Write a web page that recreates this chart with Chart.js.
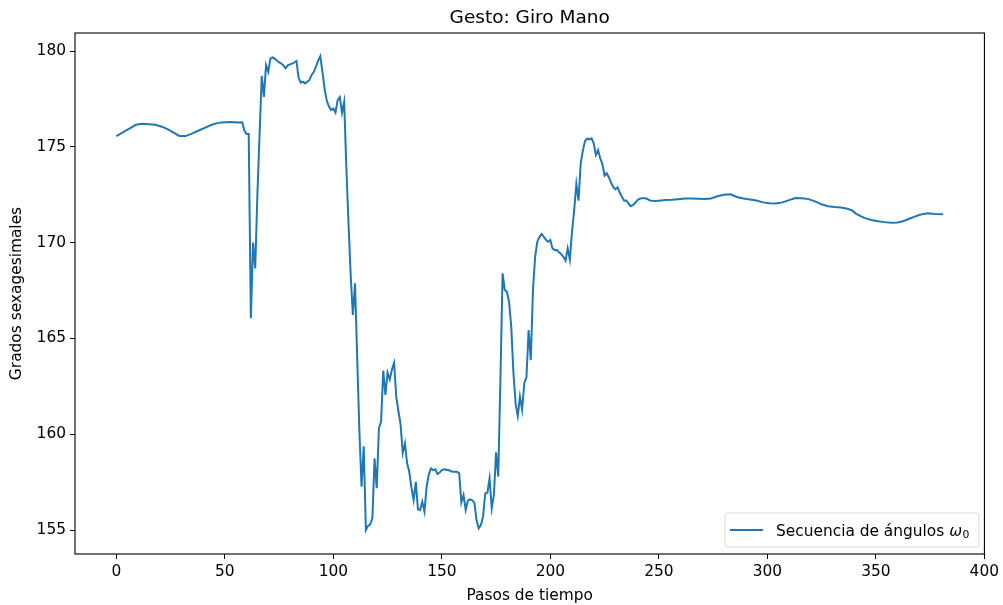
<!DOCTYPE html>
<html>
<head>
<meta charset="utf-8">
<script src="https://cdn.jsdelivr.net/npm/chart.js@4/dist/chart.umd.min.js"></script>
<style>
  html, body { margin: 0; padding: 0; background: #fff; }
  #wrap { width: 1003px; height: 605px; }
</style>
</head>
<body>
<div id="wrap"><canvas id="c" width="1003" height="605"></canvas></div>
<script>
const steps = [0,3,6,9,12,15,18,21,24,27,29,32,35,38,41,44,47,50,53,56,58,59,60,61,
  62,63,64,65,66,67,68,69,70,71,72,73,74,75,76,77,78,79,80,81,82,83,84,85,86,87,88,89,
  90,91,92,93,94,95,96,97,98,99,100,101,102,103,104,105,106,107,108,109,110,111,112,
  113,114,115,116,117,118,119,120,121,122,123,124,125,126,127,128,129,130,131,132,133,
  134,135,136,137,138,139,140,141,142,143,144,145,146,147,148,149,150,151,152,153,154,
  155,156,157,158,159,160,161,162,163,164,165,166,167,168,169,170,171,172,173,174,175,
  176,177,178,179,180,181,182,183,184,185,186,187,188,189,190,191,192,193,194,195,196,
  197,198,199,200,201,202,203,204,205,206,207,208,209,210,211,212,213,214,215,216,217,
  218,219,220,221,222,223,224,225,226,227,228,229,230,231,232,233,234,235,236,237,238,
  239,240,241,242,244,246,248,250,253,256,259,262,265,268,271,274,277,280,283,286,289,
  292,295,298,301,304,307,310,313,316,319,322,325,328,331,334,337,339,341,343,345,348,
  351,354,357,360,362,364,366,368,370,372,374,377,381];
const angles = [175.56,175.75,175.95,176.15,176.2,176.18,176.15,176.05,175.9,175.7,175.57,175.56,175.7,175.85,176.0,176.15,176.25,176.28,176.3,176.27,176.28,175.85,175.67,175.67,
  166.05,170.0,168.66,172.5,175.6,178.7,177.6,179.27,178.92,179.6,179.67,179.6,179.5,179.41,179.35,179.25,179.1,179.25,179.3,179.34,179.4,179.48,178.6,178.35,178.4,178.31,178.4,178.49,
  178.75,178.9,179.18,179.5,179.73,178.9,178.0,177.4,177.1,176.92,177.0,176.78,177.45,177.6,176.78,177.35,173.9,171.0,168.3,166.22,167.88,164.0,160.2,
  157.26,159.37,155.0,155.22,155.3,155.61,158.74,157.18,160.31,160.66,163.32,162.05,163.21,162.86,163.38,163.73,161.96,161.2,160.5,159.03,159.52,
  158.48,158.04,157.2,156.57,157.52,156.08,156.05,156.48,155.96,157.26,157.9,158.22,158.13,158.17,157.92,158.0,158.13,158.17,158.15,158.13,158.08,
  158.04,158.04,158.04,157.96,156.43,156.83,156.05,156.53,156.6,156.55,156.43,155.52,155.09,155.26,155.7,156.91,156.95,157.7,156.13,156.83,159.06,
  157.79,162.83,168.4,167.53,167.44,166.9,165.6,163.2,161.6,160.95,161.96,161.27,162.66,162.97,165.44,163.87,167.53,169.26,170.05,170.3,170.45,
  170.3,170.15,170.05,170.14,169.7,169.61,169.61,169.5,169.4,169.26,169.06,169.7,169.12,170.57,171.7,173.06,172.19,174.14,174.8,175.3,175.44,
  175.39,175.44,175.18,174.57,174.83,174.4,174.1,173.5,173.62,173.4,173.13,172.9,172.78,172.89,172.6,172.4,172.19,172.2,172.05,171.9,171.95,
  172.05,172.2,172.28,172.31,172.31,172.2,172.17,172.19,172.22,172.24,172.27,172.3,172.3,172.29,172.28,172.3,172.42,172.5,172.52,172.38,172.3,
  172.25,172.2,172.1,172.05,172.04,172.1,172.22,172.33,172.32,172.27,172.15,172.0,171.9,171.86,171.83,171.77,171.68,171.5,171.38,171.28,171.18,
  171.12,171.07,171.04,171.05,171.1,171.18,171.27,171.36,171.44,171.5,171.53,171.5,171.48];
const xTicks = [0,50,100,150,200,250,300,350,400];
const yTicks = [155,160,165,170,175,180];
const titleText = 'Gesto: Giro Mano';
const xLabel = 'Pasos de tiempo';
const yLabel = 'Grados sexagesimales';
const seriesLabel = 'Secuencia de ángulos ω₀';
const legendParts = ['Secuencia de ángulos ', 'ω', '0'];

const points = steps.map((s, i) => ({ x: s, y: angles[i] }));
const FONT = 'DejaVu Sans';
const FS = 15.4;
const BLUE = '#1f77b4';

const decor = {
  id: 'decor',
  afterDraw(chart) {
    const ctx = chart.ctx, a = chart.chartArea;
    ctx.save();
    // frame
    ctx.strokeStyle = '#000';
    ctx.lineWidth = 1.1;
    ctx.strokeRect(a.left, a.top, a.right - a.left, a.bottom - a.top);
    // title
    ctx.fillStyle = '#000';
    ctx.font = '18.5px "' + FONT + '"';
    ctx.textAlign = 'center';
    ctx.textBaseline = 'alphabetic';
    ctx.fillText(titleText, (a.left + a.right) / 2, 23);
    // legend
    const bx = 725, by = 513, bw = 254, bh = 34, r = 3;
    ctx.beginPath();
    ctx.moveTo(bx + r, by);
    ctx.lineTo(bx + bw - r, by); ctx.quadraticCurveTo(bx + bw, by, bx + bw, by + r);
    ctx.lineTo(bx + bw, by + bh - r); ctx.quadraticCurveTo(bx + bw, by + bh, bx + bw - r, by + bh);
    ctx.lineTo(bx + r, by + bh); ctx.quadraticCurveTo(bx, by + bh, bx, by + bh - r);
    ctx.lineTo(bx, by + r); ctx.quadraticCurveTo(bx, by, bx + r, by);
    ctx.closePath();
    ctx.fillStyle = 'rgba(255,255,255,0.8)';
    ctx.fill();
    ctx.strokeStyle = '#d9d9d9';
    ctx.lineWidth = 1;
    ctx.stroke();
    ctx.strokeStyle = BLUE;
    ctx.lineWidth = 2;
    ctx.beginPath();
    ctx.moveTo(730, 530); ctx.lineTo(763, 530);
    ctx.stroke();
    ctx.fillStyle = '#000';
    ctx.textAlign = 'left';
    ctx.textBaseline = 'alphabetic';
    const base = 535.5;
    let x = 776;
    ctx.font = FS + 'px "' + FONT + '"';
    ctx.fillText(legendParts[0], x, base);
    x += ctx.measureText(legendParts[0]).width;
    ctx.font = 'italic ' + FS + 'px "' + FONT + '"';
    ctx.fillText(legendParts[1], x, base);
    x += ctx.measureText(legendParts[1]).width + 0.5;
    ctx.font = (FS * 0.7).toFixed(1) + 'px "' + FONT + '"';
    ctx.fillText(legendParts[2], x, base + 2.5);
    ctx.restore();
  }
};

new Chart(document.getElementById('c'), {
  type: 'line',
  data: {
    datasets: [{
      label: seriesLabel,
      data: points,
      borderColor: BLUE,
      borderWidth: 2,
      pointRadius: 0,
      tension: 0,
      fill: false
    }]
  },
  options: {
    responsive: false,
    animation: false,
    layout: { padding: { top: 33, right: 16, left: 0, bottom: 0 } },
    plugins: { legend: { display: false }, title: { display: false }, tooltip: { enabled: false } },
    scales: {
      x: {
        type: 'linear',
        min: -19.05, max: 400.05,
        afterFit(s) { s.height = 51; },
        afterBuildTicks(s) { s.ticks = xTicks.map(v => ({ value: v })); },
        grid: { drawOnChartArea: false, drawTicks: true, tickLength: 5, tickColor: '#000', lineWidth: 1 },
        border: { display: false },
        ticks: { color: '#000', font: { family: FONT, size: FS }, padding: 4, maxRotation: 0, autoSkip: false },
        title: { display: true, text: xLabel, color: '#000', font: { family: FONT, size: FS }, padding: { top: 0, bottom: 0 } }
      },
      y: {
        type: 'linear',
        min: 153.75, max: 180.94,
        afterFit(s) { s.width = 75; },
        afterBuildTicks(s) { s.ticks = yTicks.map(v => ({ value: v })); },
        grid: { drawOnChartArea: false, drawTicks: true, tickLength: 5, tickColor: '#000', lineWidth: 1 },
        border: { display: false },
        ticks: { color: '#000', font: { family: FONT, size: FS }, padding: 4, autoSkip: false },
        title: { display: true, text: yLabel, color: '#000', font: { family: FONT, size: FS }, padding: { top: 8, bottom: 0 } }
      }
    }
  },
  plugins: [decor]
});
</script>
</body>
</html>
